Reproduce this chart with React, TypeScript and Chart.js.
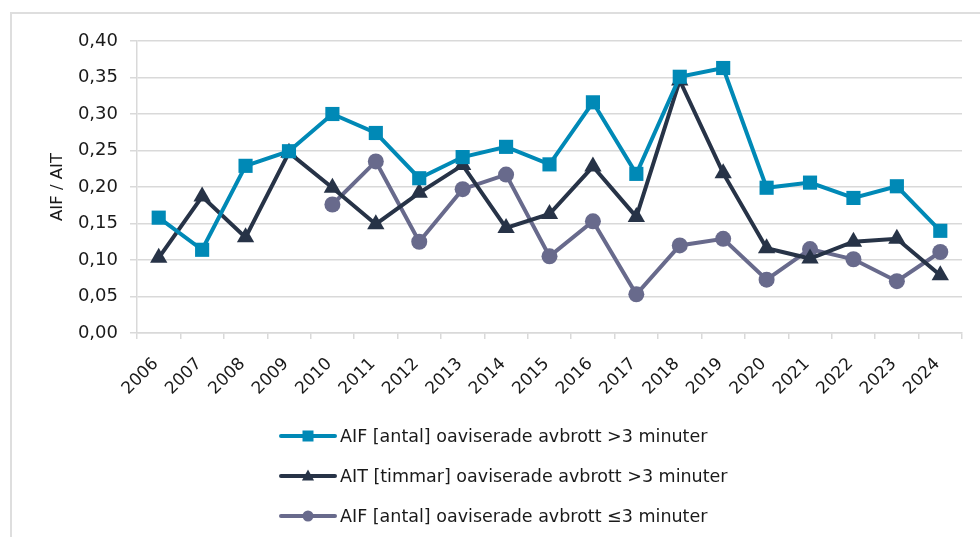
import React, { useEffect, useRef } from "react";
import { Chart, registerables } from "chart.js";

Chart.register(...registerables);

const years = ["2006", "2007", "2008", "2009", "2010", "2011", "2012", "2013", "2014", "2015", "2016", "2017", "2018", "2019", "2020", "2021", "2022", "2023", "2024"];
const aifOver3 = [0.158, 0.114, 0.229, 0.249, 0.300, 0.274, 0.212, 0.241, 0.255, 0.231, 0.316, 0.218, 0.351, 0.363, 0.199, 0.206, 0.185, 0.201, 0.140];
const aitOver3 = [0.103, 0.187, 0.131, 0.247, 0.199, 0.149, 0.192, 0.230, 0.144, 0.163, 0.228, 0.159, 0.346, 0.219, 0.116, 0.102, 0.125, 0.129, 0.079];
const aifUpTo3 = [null, null, null, null, 0.176, 0.235, 0.125, 0.197, 0.217, 0.105, 0.153, 0.053, 0.120, 0.129, 0.073, 0.115, 0.101, 0.071, 0.111];
const seriesLabels = [
  "AIF [antal] oaviserade avbrott >3 minuter",
  "AIT [timmar] oaviserade avbrott >3 minuter",
  "AIF [antal] oaviserade avbrott \u22643 minuter",
];
const yTitle = "AIF / AIT";

const BLUE = "#0089b6";
const DARK = "#273347";
const GREY = "#686a8c";
const GRID = "#d9d9d9";
const TEXT = "#1a1a1a";
const FONT = "'DejaVu Sans', sans-serif";

function drawMarker(ctx: CanvasRenderingContext2D, style: string, x: number, y: number, s: number, color: string) {
  ctx.save();
  ctx.fillStyle = color;
  ctx.beginPath();
  if (style === "rect") {
    ctx.rect(x - s / 2, y - s / 2, s, s);
  } else if (style === "triangle") {
    ctx.moveTo(x, y - s * 0.6);
    ctx.lineTo(x + s * 0.55, y + s * 0.4);
    ctx.lineTo(x - s * 0.55, y + s * 0.4);
    ctx.closePath();
  } else {
    ctx.arc(x, y, s / 2, 0, Math.PI * 2);
  }
  ctx.fill();
  ctx.restore();
}

const legendPlugin = {
  id: "stackedLegend",
  afterDraw(chart: any) {
    const ctx: CanvasRenderingContext2D = chart.ctx;
    const top = 436;
    const gap = 40;
    const x0 = 281;
    const x1 = 335;
    chart.data.datasets.forEach((ds: any, i: number) => {
      const y = top + i * gap;
      ctx.save();
      ctx.strokeStyle = ds.borderColor;
      ctx.lineWidth = 4;
      ctx.lineCap = "round";
      ctx.beginPath();
      ctx.moveTo(x0, y);
      ctx.lineTo(x1, y);
      ctx.stroke();
      drawMarker(ctx, ds.pointStyle, (x0 + x1) / 2, y, 11, ds.borderColor);
      ctx.fillStyle = TEXT;
      ctx.font = `17.5px ${FONT}`;
      ctx.textBaseline = "middle";
      ctx.textAlign = "left";
      ctx.fillText(ds.label, x1 + 5, y + 1);
      ctx.restore();
    });
  },
};

export default function App() {
  const ref = useRef<HTMLCanvasElement | null>(null);

  useEffect(() => {
    if (!ref.current) return;
    const chart = new Chart(ref.current, {
      type: "line",
      data: {
        labels: years,
        datasets: [
          {
            label: seriesLabels[0],
            data: aifOver3,
            borderColor: BLUE,
            backgroundColor: BLUE,
            borderWidth: 4,
            pointStyle: "rect",
            pointRadius: 10,
            pointBorderWidth: 0,
            pointBackgroundColor: BLUE,
            tension: 0,
          },
          {
            label: seriesLabels[1],
            data: aitOver3,
            borderColor: DARK,
            backgroundColor: DARK,
            borderWidth: 4,
            pointStyle: "triangle",
            pointRadius: 10,
            pointBorderWidth: 0,
            pointBackgroundColor: DARK,
            tension: 0,
          },
          {
            label: seriesLabels[2],
            data: aifUpTo3,
            borderColor: GREY,
            backgroundColor: GREY,
            borderWidth: 4,
            pointStyle: "circle",
            pointRadius: 8,
            pointBorderWidth: 0,
            pointBackgroundColor: GREY,
            tension: 0,
          },
        ],
      },
      options: {
        animation: false,
        responsive: false,
        maintainAspectRatio: false,
        layout: { padding: { top: 41, right: 18, left: 0, bottom: 0 } },
        plugins: {
          legend: { display: false },
          tooltip: { enabled: false },
        },
        scales: {
          x: {
            type: "category",
            offset: true,
            grid: {
              drawOnChartArea: false,
              drawTicks: true,
              tickLength: 6,
              color: GRID,
              lineWidth: 1.5,
              offset: true,
            },
            border: { display: true, color: GRID, width: 1.5 },
            ticks: {
              autoSkip: false,
              minRotation: 45,
              maxRotation: 45,
              color: TEXT,
              font: { family: FONT, size: 17 },
              padding: 15,
              labelOffset: -3,
            },
            afterFit: (s: any) => {
              s.height = 204;
            },
          },
          y: {
            min: 0,
            max: 0.4,
            grid: { color: GRID, lineWidth: 1.5, tickLength: 7 },
            border: { display: true, color: GRID, width: 1.5 },
            ticks: {
              stepSize: 0.05,
              color: TEXT,
              padding: 12,
              font: { family: FONT, size: 18 },
              callback: (v: any) => Number(v).toFixed(2).replace(".", ","),
            },
            title: {
              display: true,
              text: yTitle,
              color: TEXT,
              font: { family: FONT, size: 16.5 },
              padding: { top: 48, bottom: 0 },
            },
            afterFit: (s: any) => {
              s.width = 137;
            },
          },
        },
      },
      plugins: [legendPlugin],
    });
    return () => chart.destroy();
  }, []);

  return (
    <div style={{ position: "absolute", left: 0, top: 0, width: 980, height: 537, background: "#fff", overflow: "hidden" }}>
      <div
        style={{
          position: "absolute",
          left: 10,
          top: 12,
          width: 970,
          height: 525,
          borderTop: "2px solid #dedede",
          borderLeft: "2px solid #dedede",
          boxSizing: "border-box",
        }}
      />
      <canvas ref={ref} width={980} height={537} style={{ position: "absolute", left: 0, top: 0, width: 980, height: 537 }} />
    </div>
  );
}
